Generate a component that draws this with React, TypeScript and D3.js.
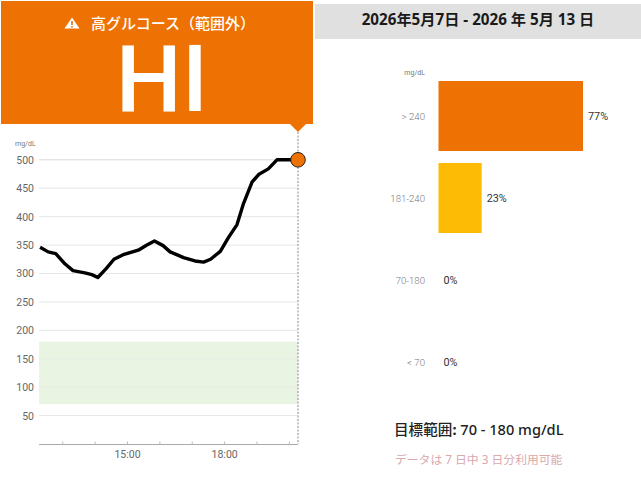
import React from "react";
import * as d3 from "d3";

// glucose trace: [clock time, mg/dL]
const traceTimes = ["12:18","12:33","12:47","13:04","13:19","13:41","13:54","14:05","14:20","14:35","14:52","15:20","15:36","15:50","16:06","16:19","16:44","17:05","17:21","17:34","17:52","18:07","18:23","18:35","18:51","19:03","19:21","19:37","20:16"];
const traceValues = [346,338,335,317,305,301,298,293,308,325,333,341,350,357,349,338,328,322,320,325,339,363,386,423,461,474,484,500,500];
const yTicks = [50,100,150,200,250,300,350,400,450,500];
const hourTicks = ["13:00","14:00","15:00","16:00","17:00","18:00","19:00","20:00"];
const labelledHours = ["15:00","18:00"];
const targetRange = [70,180];
const bandCategories = ["> 240","181-240","70-180","< 70"];
const bandPercents = [77,23,0,0];
const bandColors = ["#ee7203","#febb05","#4caf50","#d32f2f"];

const JP = "'Noto Sans CJK JP','Noto Sans',sans-serif";
const NS = "'Noto Sans','Noto Sans CJK JP',sans-serif";
const RB = "Roboto,sans-serif";
const mins = (s: string) => { const [h, m] = s.split(":").map(Number); return h * 60 + m; };

const x = d3.scaleLinear().domain([mins("12:16"), mins("20:16")]).range([39, 298]);
const y = d3.scaleLinear().domain([0, 500]).range([444, 159.8]);
const bx = d3.scaleLinear().domain([0, 77]).range([438.5, 583]);
const by = d3.scaleBand().domain(bandCategories).range([75, 403]).paddingInner(12 / 82).paddingOuter(6 / 82);

const line = d3.line<number>().x((_, i) => x(mins(traceTimes[i]))).y(d => y(d));

export default function App() {
  const lastX = x(mins(traceTimes[traceTimes.length - 1]));
  const lastY = y(traceValues[traceValues.length - 1]);
  return (
    <svg width={641} height={480} style={{ position: "absolute", left: 0, top: 0, background: "#fff" }}>
      {/* header */}
      <rect x={1} y={1} width={312} height={123} fill="#ee7203" />
      <path d={`M${lastX - 8} 124 L${lastX} 132 L${lastX + 8} 124 Z`} fill="#ee7203" />
      <path d="M72 17.5 L79.5 28.5 L64.5 28.5 Z" fill="#fff" />
      <rect x={71.2} y={21} width={1.6} height={4} fill="#ee7203" />
      <rect x={71.2} y={26} width={1.6} height={1.5} fill="#ee7203" />
      <text x={91} y={29} fontFamily={JP} fontSize={15} fontWeight={500} fill="#fff">高グルコース（範囲外）</text>
      <text x={162} y={111} textAnchor="middle" fontFamily={RB} fontSize={93} fontWeight={500} fill="#fff">HI</text>

      {/* date header */}
      <rect x={315} y={4} width={326} height={35} fill="#e0e0e0" />
      <text x={478} y={25} textAnchor="middle" fontFamily={NS} fontSize={15.2} fontWeight={700} fill="#1a1a1a">2026年5月7日 - 2026 年 5月 13 日</text>

      {/* line chart */}
      <text x={15} y={146} fontFamily={RB} fontSize={7} fill="#777">mg/dL</text>
      <rect x={39} y={y(targetRange[1])} width={259} height={y(targetRange[0]) - y(targetRange[1])} fill="#eaf4e3" />
      {yTicks.map(t => (
        <g key={t}>
          <line x1={39} x2={298} y1={y(t)} y2={y(t)} stroke={t === 500 ? "#d9d9d9" : "#e6e6e6"} strokeOpacity={t === 100 || t === 150 ? 0.6 : 1} />
          <text x={34} y={y(t) + 4} textAnchor="end" fontFamily={RB} fontSize={10.5} fill="#666">{t}</text>
        </g>
      ))}
      <line x1={39} x2={298} y1={444.5} y2={444.5} stroke="#aaa" />
      {hourTicks.map(t => (
        <line key={t} x1={x(mins(t))} x2={x(mins(t))} y1={441.5} y2={444.5} stroke="#bbb" />
      ))}
      {labelledHours.map(t => (
        <text key={t} x={x(mins(t))} y={458} textAnchor="middle" fontFamily={RB} fontSize={10.5} fill="#666">{t}</text>
      ))}
      <line x1={lastX} x2={lastX} y1={132} y2={444} stroke="#888" strokeDasharray="2 1.5" />
      <path d={line(traceValues) ?? ""} fill="none" stroke="#000" strokeWidth={3.4} strokeLinejoin="round" />
      <circle cx={lastX} cy={lastY} r={7.3} fill="#ee7203" stroke="#222" strokeWidth={1} />

      {/* bars */}
      <text x={425} y={75} textAnchor="end" fontFamily={RB} fontSize={7} fill="#777">mg/dL</text>
      {bandCategories.map((c, i) => {
        const top = by(c) as number;
        const cy = top + by.bandwidth() / 2;
        const p = bandPercents[i];
        return (
          <g key={c}>
            <text x={425} y={cy + 3.5} textAnchor="end" fontFamily={RB} fontSize={9.6} fontWeight={300} fill="#777">{c}</text>
            {p > 0 && <rect x={bx(0)} y={top} width={bx(p) - bx(0)} height={by.bandwidth()} fill={bandColors[i]} />}
            <text x={bx(p) + 5} y={cy + 3.5} fontFamily={RB} fontSize={10.8} fill="#333">{p}%</text>
          </g>
        );
      })}

      {/* footer */}
      <text x={394} y={435} fontFamily={NS} fontSize={14.6} fontWeight={500} fill="#222">目標範囲<tspan fontWeight={700}>:</tspan> 70 - 180 mg/dL</text>
      <text x={395} y={464} fontFamily={NS} fontSize={11.8} fill="#d9a9ae">データは 7 日中 3 日分利用可能</text>
    </svg>
  );
}
